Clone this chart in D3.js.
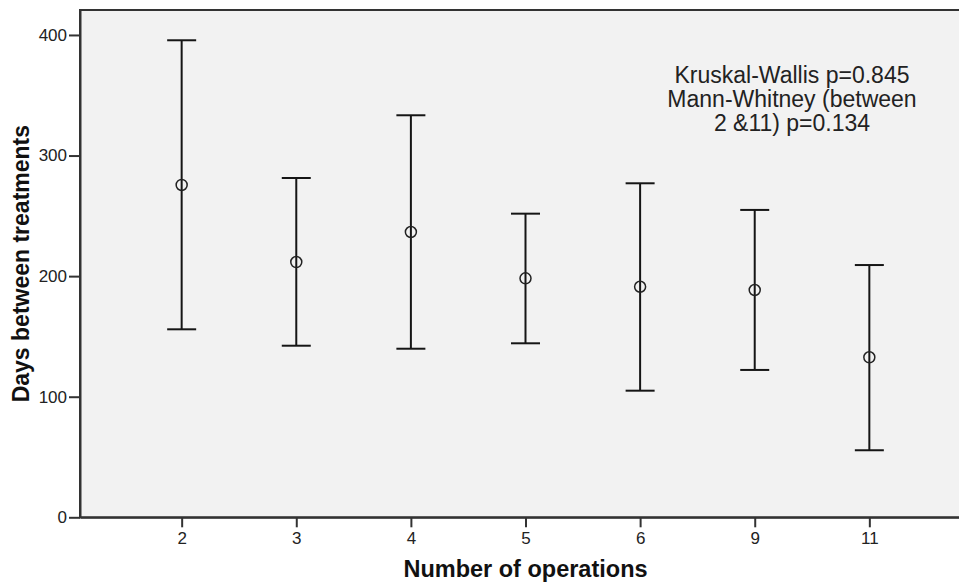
<!DOCTYPE html>
<html lang="en">
  <head>
    <meta charset="UTF-8" />
    <title>Days between treatments</title>
    <script src="https://cdn.jsdelivr.net/npm/d3@7"></script>
    <style>
      body { margin: 0; background: #fff; }
      svg { display: block; font-family: "Liberation Sans", Arial, sans-serif; }
    </style>
  </head>
  <body>
    <svg width="959" height="584"></svg>
    <script>
      // data
      const categories = ["2", "3", "4", "5", "6", "9", "11"];
      const means = [275.6, 211.7, 236.6, 198.2, 191.2, 188.5, 132.7];
      const lower = [155.9, 142.3, 139.8, 144.3, 105.0, 122.2, 55.6];
      const upper = [395.6, 281.4, 333.4, 251.8, 277.0, 254.9, 209.2];
      const yTicks = [0, 100, 200, 300, 400];
      const notes = ["Kruskal-Wallis p=0.845", "Mann-Whitney (between", "2 &11) p=0.134"];

      const svg = d3.select("svg");
      const plotL = 80, plotR = 971, plotT = 10, plotB = 517.3;

      const x = d3.scalePoint().domain(categories).range([plotL, plotR]).padding(0.887);
      const y = d3.scaleLinear().domain([0, 420.7]).range([plotB, plotT]);

      // plot background + frame
      svg.append("rect")
        .attr("x", plotL).attr("y", plotT)
        .attr("width", plotR - plotL).attr("height", plotB - plotT)
        .attr("fill", "#f2f2f2")
        .attr("stroke", "#333").attr("stroke-width", 2);

      // axes
      const yAxis = svg.append("g")
        .attr("transform", `translate(${plotL},0)`)
        .call(d3.axisLeft(y).tickValues(yTicks).tickSize(11).tickSizeOuter(0).tickPadding(2));
      const xAxis = svg.append("g")
        .attr("transform", `translate(0,${plotB})`)
        .call(d3.axisBottom(x).tickSize(10).tickSizeOuter(0).tickPadding(5));
      [xAxis, yAxis].forEach(g => {
        g.select(".domain").attr("stroke", "#333").attr("stroke-width", 2);
        g.selectAll(".tick line").attr("stroke", "#333").attr("stroke-width", 2);
        g.selectAll(".tick text")
          .attr("fill", "#222")
          .attr("font-size", 17)
          .attr("font-family", "'Liberation Sans', Arial, sans-serif");
      });

      const rows = categories.map((c, i) => ({ c, m: means[i], lo: lower[i], hi: upper[i] }));
      const capW = 14.5;

      const bars = svg.append("g").attr("stroke", "#151515").attr("stroke-width", 2).attr("fill", "none");
      bars.selectAll(".whisker").data(rows).join("line").attr("class", "whisker")
        .attr("x1", d => x(d.c)).attr("x2", d => x(d.c))
        .attr("y1", d => y(d.hi)).attr("y2", d => y(d.lo));
      bars.selectAll(".capHi").data(rows).join("line").attr("class", "capHi")
        .attr("x1", d => x(d.c) - capW).attr("x2", d => x(d.c) + capW)
        .attr("y1", d => y(d.hi)).attr("y2", d => y(d.hi));
      bars.selectAll(".capLo").data(rows).join("line").attr("class", "capLo")
        .attr("x1", d => x(d.c) - capW).attr("x2", d => x(d.c) + capW)
        .attr("y1", d => y(d.lo)).attr("y2", d => y(d.lo));
      svg.append("g").selectAll("circle").data(rows).join("circle")
        .attr("cx", d => x(d.c)).attr("cy", d => y(d.m))
        .attr("r", 5.5)
        .attr("fill", "none").attr("stroke", "#222").attr("stroke-width", 1.5);

      // annotation
      svg.append("text")
        .attr("text-anchor", "middle")
        .attr("fill", "#222")
        .style("font-size", "23px")
        .selectAll("tspan").data(notes).join("tspan")
        .attr("x", 792)
        .attr("y", (d, i) => 83 + i * 24)
        .text(d => d);

      // axis titles
      svg.append("text")
        .attr("x", (plotL + plotR) / 2).attr("y", 577)
        .attr("text-anchor", "middle")
        .style("font-size", "23.5px").style("font-weight", "bold")
        .attr("fill", "#111")
        .text("Number of operations");
      svg.append("text")
        .attr("transform", `translate(29,${(plotT + plotB) / 2}) rotate(-90)`)
        .attr("text-anchor", "middle")
        .style("font-size", "23px").style("font-weight", "bold")
        .attr("fill", "#111")
        .text("Days between treatments");
    </script>
  </body>
</html>
